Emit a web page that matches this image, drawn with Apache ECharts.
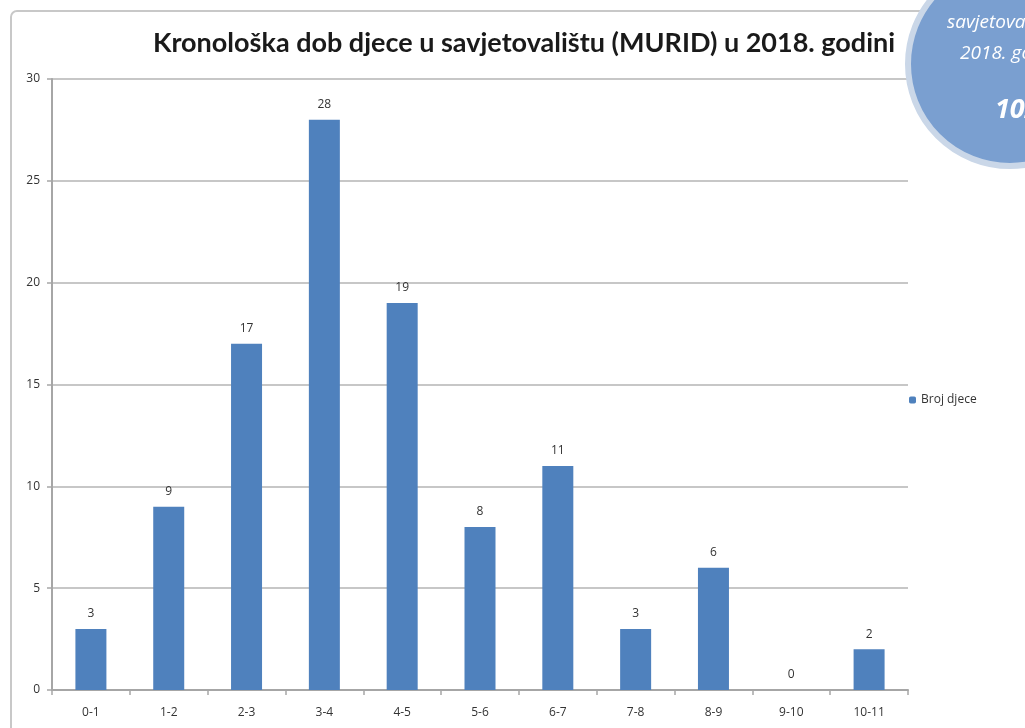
<!DOCTYPE html>
<html>
<head>
<meta charset="utf-8">
<script src="https://cdn.jsdelivr.net/npm/echarts@6/dist/echarts.min.js"></script>
<style>
  html, body { margin: 0; padding: 0; background: #fff; }
  #chart { width: 1025px; height: 728px; }
</style>
</head>
<body>
<div id="chart"></div>
<script>
  const categories = ['0-1', '1-2', '2-3', '3-4', '4-5', '5-6', '6-7', '7-8', '8-9', '9-10', '10-11'];
  const brojDjece = [3, 9, 17, 28, 19, 8, 11, 3, 6, 0, 2];
  const seriesName = 'Broj djece';
  const titleText = 'Kronološka dob djece u savjetovalištu (MURID) u 2018. godini';

  const myChart = echarts.init(document.getElementById('chart'));
  const font = 'Open Sans, Lato, sans-serif';

  let option = {
    animation: false,
    textStyle: { fontFamily: font },
    title: {
      text: titleText,
      left: 519,
      top: 25,
      textAlign: 'center',
      textStyle: { fontSize: 27, fontWeight: 'bold', color: '#1a1a1a', fontFamily: 'Lato, sans-serif' }
    },
    legend: {
      data: [seriesName],
      left: 904,
      top: 389,
      itemWidth: 7,
      itemHeight: 7,
      itemGap: 4,
      textStyle: { fontSize: 12, color: '#333' }
    },
    grid: { left: 52, right: 117, top: 79, bottom: 38 },
    xAxis: {
      type: 'category',
      data: categories,
      axisLine: { lineStyle: { color: '#a6a6a6', width: 2 } },
      axisTick: { show: true, length: 5, lineStyle: { color: '#a6a6a6', width: 1.5 } },
      axisLabel: { color: '#333', fontSize: 12, margin: 17 }
    },
    yAxis: {
      type: 'value',
      min: 0,
      max: 30,
      interval: 5,
      axisLine: { show: true, lineStyle: { color: '#a6a6a6', width: 2 } },
      axisTick: { show: true, length: 5, lineStyle: { color: '#a6a6a6', width: 1.5 } },
      splitLine: { lineStyle: { color: '#b4b4b4', width: 1.5 } },
      axisLabel: { color: '#333', fontSize: 12, margin: 12 }
    },
    series: [{
      name: seriesName,
      type: 'bar',
      data: brojDjece,
      barWidth: 31,
      itemStyle: { color: '#4f81bd' },
      label: { show: true, position: 'top', distance: 9, color: '#333', fontSize: 12 }
    }],
    graphic: [
      {
        type: 'rect',
        shape: { x: 11, y: 11, width: 1100, height: 800, r: 6 },
        style: { fill: 'none', stroke: '#c8c8c8', lineWidth: 2 },
        z: -10
      },
      {
        type: 'circle',
        shape: { cx: 1010, cy: 64, r: 102 },
        style: { fill: '#7a9fd0', stroke: '#cad7e8', lineWidth: 6 },
        z: 10
      },
      {
        type: 'text',
        style: { x: 947, y: 23, text: 'savjetovalištu u', fill: '#fff', font: 'italic 19px ' + font, verticalAlign: 'middle' },
        z: 11
      },
      {
        type: 'text',
        style: { x: 960, y: 54, text: '2018. godini', fill: '#fff', font: 'italic 19px ' + font, verticalAlign: 'middle' },
        z: 11
      },
      {
        type: 'text',
        style: { x: 995, y: 110, text: '102', fill: '#fff', font: 'italic bold 27px ' + font, verticalAlign: 'middle' },
        z: 11
      }
    ]
  };
  myChart.setOption(option);
</script>
</body>
</html>
